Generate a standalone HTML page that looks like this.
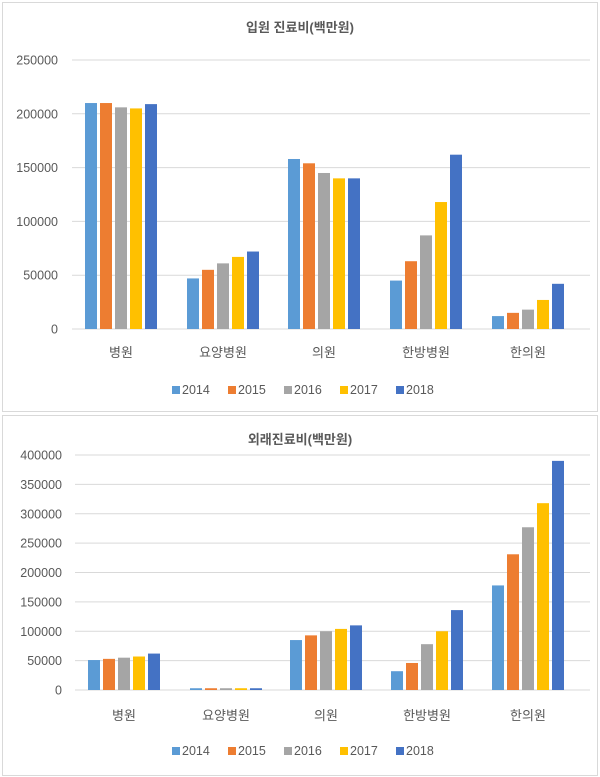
<!DOCTYPE html>
<html><head><meta charset="utf-8"><style>
body{margin:0;background:#fff;}
svg{display:block;font-family:"Liberation Sans","Noto Sans CJK KR",sans-serif;}
</style></head><body>
<svg id="s" width="600" height="777" xmlns="http://www.w3.org/2000/svg"></svg>
<script>
const C=["#5B9BD5","#ED7D31","#A5A5A5","#FFC000","#4472C4"];
const cats=["병원","요양병원","의원","한방병원","한의원"];
let h='<rect x="0" y="0" width="600" height="777" fill="#fff"/>';
h+='<rect x="2.5" y="2.5" width="595" height="409" fill="#fff" stroke="#d9d9d9"/>';
h+='<rect x="2.5" y="415.5" width="595" height="360" fill="#fff" stroke="#d9d9d9"/>';
function chart(o){
 h+=`<text x="300" y="${o.ty}" font-size="13" font-weight="bold" fill="#595959" text-anchor="middle">${o.title}</text>`;
 for(let i=0;i<=o.n;i++){const v=i*o.step,y=o.y0-(o.y0-o.ytop)*i/o.n;
  h+=`<line x1="${o.gx}" x2="590" y1="${y}" y2="${y}" stroke="#d9d9d9"/>`;
  h+=`<text x="${o.lx}" y="${y+4.5}" font-size="12.5" fill="#595959" text-anchor="end">${v}</text>`;}
 o.data.forEach((g,ci)=>{const x0=o.gs[ci];
  g.forEach((v,k)=>{const hh=(o.y0-o.ytop)*v/(o.step*o.n);
   h+=`<rect x="${x0+k*15}" y="${o.y0-hh}" width="12" height="${hh}" fill="${C[k]}"/>`;});
  h+=`<text x="${x0+36}" y="${o.cy}" font-size="13" fill="#595959" text-anchor="middle">${cats[ci]}</text>`;});
 const yrs=[2014,2015,2016,2017,2018];
 yrs.forEach((y,k)=>{const x=172+k*56;
  h+=`<rect x="${x}" y="${o.ly-8}" width="8" height="8" fill="${C[k]}"/>`;
  h+=`<text x="${x+10}" y="${o.ly}" font-size="12.5" fill="#595959">${y}</text>`;});
}
chart({title:"입원 진료비(백만원)",ty:32,y0:329,ytop:60,n:5,step:50000,gx:72,lx:58,cy:357,ly:394,
 gs:[85,187,288,390,492],
 data:[[210000,210000,206000,205000,209000],[47000,55000,61000,67000,72000],[158000,154000,145000,140000,140000],[45000,63000,87000,118000,162000],[12000,15000,18000,27000,42000]]});
chart({title:"외래진료비(백만원)",ty:444,y0:690,ytop:455,n:8,step:50000,gx:75,lx:62,cy:720,ly:755,
 gs:[88,190,290,391,492],
 data:[[51000,53000,55000,57000,62000],[3000,3000,3000,3000,3000],[85000,93000,100000,104000,110000],[32000,46000,78000,100000,136000],[178000,231000,277000,318000,390000]]});
document.getElementById('s').innerHTML=h;
</script>
</body></html>
